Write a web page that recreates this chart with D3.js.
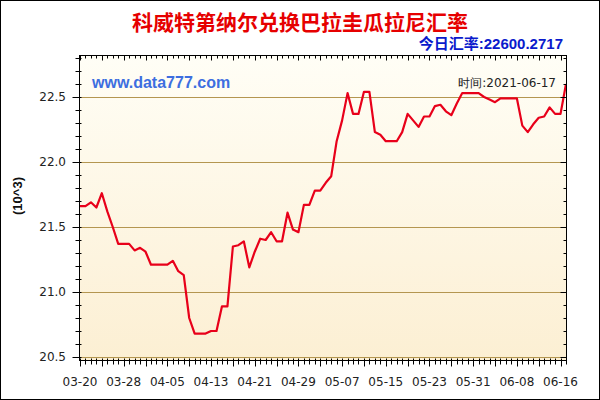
<!DOCTYPE html>
<html><head><meta charset="utf-8">
<script src="https://cdn.jsdelivr.net/npm/d3@7"></script>
<style>html,body{margin:0;padding:0;background:#fff;}svg{display:block;}</style>
</head><body>
<svg id="chart" width="600" height="400"></svg>
<script>
const title = "科威特第纳尔兑换巴拉圭瓜拉尼汇率";
const todayRate = "今日汇率:22600.2717";
const timeLabel = "时间:2021-06-17";
const site = "www.data777.com";
const unitLabel = "(10^3)";

const dates = [
 "03-20","03-21","03-22","03-23","03-24","03-25","03-26","03-27","03-28","03-29","03-30","03-31",
 "04-01","04-02","04-03","04-04","04-05","04-06","04-07","04-08","04-09","04-10",
 "04-11","04-12","04-13","04-14","04-15","04-16","04-17","04-18","04-19","04-20",
 "04-21","04-22","04-23","04-24","04-25","04-26","04-27","04-28","04-29","04-30",
 "05-01","05-02","05-03","05-04","05-05","05-06","05-07","05-08","05-09","05-10",
 "05-11","05-12","05-13","05-14","05-15","05-16","05-17","05-18","05-19","05-20",
 "05-21","05-22","05-23","05-24","05-25","05-26","05-27","05-28","05-29","05-30","05-31",
 "06-01","06-02","06-03","06-04","06-05","06-06","06-07","06-08","06-09","06-10",
 "06-11","06-12","06-13","06-14","06-15","06-16","06-17"
];
const values = [
 21.66,21.66,21.69,21.65,21.76,21.62,21.50,21.37,21.37,21.37,21.32,21.34,
 21.31,21.21,21.21,21.21,21.21,21.24,21.16,21.13,20.80,20.68,
 20.68,20.68,20.70,20.70,20.89,20.89,21.35,21.36,21.39,21.19,
 21.31,21.41,21.40,21.46,21.39,21.39,21.61,21.48,21.46,21.67,
 21.67,21.78,21.78,21.84,21.89,22.16,22.32,22.53,22.37,22.37,
 22.54,22.54,22.23,22.21,22.16,22.16,22.16,22.23,22.37,22.32,
 22.27,22.35,22.35,22.43,22.44,22.39,22.36,22.45,22.53,22.53,22.53,
 22.53,22.50,22.48,22.46,22.49,22.49,22.49,22.49,22.28,22.23,
 22.29,22.34,22.35,22.42,22.37,22.37,22.60
];
const xTickLabels = ["03-20","03-28","04-05","04-13","04-21","04-29","05-07","05-15","05-23","05-31","06-08","06-16"];
const yTicks = [20.5,21.0,21.5,22.0,22.5];
const yMinorTicks = [20.5,20.6,20.7,20.8,20.9,21.0,21.1,21.2,21.3,21.4,21.5,21.6,21.7,21.8,21.9,22.0,22.1,22.2,22.3,22.4,22.5,22.6,22.7,22.8];

const parse = d3.timeParse("%Y-%m-%d");
const toDate = s => parse("2021-" + s);
const data = dates.map((d,i) => ({date: toDate(d), value: values[i]}));

const svg = d3.select("#chart");
const L = 79.5, R = 566.5, T = 55.5, B = 360.5;

const x = d3.scaleTime().domain([toDate(dates[0]), toDate(dates[dates.length-1])]).range([80, 566]);
const y = d3.scaleLinear().domain([20.5, 22.5]).range([357, 97]);

// background
svg.append("rect").attr("x",0).attr("y",0).attr("width",600).attr("height",400).attr("fill","#fff");
const defs = svg.append("defs");
const grad = defs.append("linearGradient").attr("id","bg").attr("x1",0).attr("y1",0).attr("x2",0).attr("y2",1);
grad.append("stop").attr("offset","0%").attr("stop-color","#fffef6");
grad.append("stop").attr("offset","100%").attr("stop-color","#fcefd3");
svg.append("rect").attr("x",L).attr("y",T).attr("width",R-L).attr("height",B-T).attr("fill","url(#bg)");

// gridlines
svg.append("g").selectAll("line").data(yTicks).join("line")
  .attr("x1",L).attr("x2",R)
  .attr("y1",d=>Math.round(y(d))+0.5).attr("y2",d=>Math.round(y(d))+0.5)
  .attr("stroke","#b49650").attr("stroke-width",1);

// texts inside plot
svg.append("text").attr("x",92).attr("y",88).text(site)
  .attr("font-family","Liberation Sans, Arial, sans-serif").attr("font-weight","bold")
  .attr("font-size",16).attr("fill","#3d6ee0");
svg.append("text").attr("x",556).attr("y",87).attr("text-anchor","end").text(timeLabel)
  .attr("font-family","DejaVu Sans, sans-serif").attr("font-size",12).attr("fill","#222");

// line
svg.append("path").datum(data)
  .attr("d", d3.line().x(d=>x(d.date)).y(d=>y(d.value)))
  .attr("fill","none").attr("stroke","#e8001a").attr("stroke-width",2.2).attr("stroke-linejoin","round");

// frame
svg.append("rect").attr("x",L).attr("y",T).attr("width",R-L).attr("height",B-T)
  .attr("fill","none").attr("stroke","#000").attr("stroke-width",1);

// y ticks (left, crossing) and right (inward)
const tk = svg.append("g").attr("stroke","#000").attr("stroke-width",1);
yMinorTicks.forEach(v => {
  const major = yTicks.some(t => Math.abs(t - v) < 1e-6);
  const yy = Math.round(y(v)) + 0.5;
  tk.append("line").attr("x1", L - (major ? 7 : 4)).attr("x2", L + 2).attr("y1", yy).attr("y2", yy);
  tk.append("line").attr("x1", R - (major ? 6 : 3)).attr("x2", R).attr("y1", yy).attr("y2", yy);
});
// x ticks daily, major every 4 days
data.forEach((d,i) => {
  const xx = Math.round(x(d.date)) + 0.5;
  const major = i % 4 === 0;
  tk.append("line").attr("x1", xx).attr("x2", xx).attr("y1", B - 2).attr("y2", B + (major ? 6 : 4));
  tk.append("line").attr("x1", xx).attr("x2", xx).attr("y1", T).attr("y2", T + (major ? 5 : 3));
});

// y labels
svg.append("g").selectAll("text").data(yTicks).join("text")
  .attr("x", 66).attr("y", d => y(d)).attr("dy","0.35em").attr("text-anchor","end")
  .attr("font-family","DejaVu Sans, sans-serif").attr("font-size",12).attr("fill","#222")
  .text(d => d3.format(".1f")(d));

// x labels
svg.append("g").selectAll("text").data(xTickLabels).join("text")
  .attr("x", d => x(toDate(d))).attr("y", 386).attr("text-anchor","middle")
  .attr("font-family","DejaVu Sans, sans-serif").attr("font-size",12).attr("fill","#222")
  .text(d => d);

// titles
svg.append("text").attr("x",300).attr("y",30).attr("text-anchor","middle").text(title)
  .attr("font-family","Noto Sans CJK SC, sans-serif").attr("font-weight","bold")
  .attr("font-size",21).attr("fill","#e60000");
svg.append("text").attr("x",563).attr("y",49).attr("text-anchor","end").text(todayRate)
  .attr("font-family","Liberation Sans, Arial, Noto Sans CJK SC, sans-serif").attr("font-weight","bold")
  .attr("font-size",15).attr("fill","#0a1acc");
svg.append("text").attr("transform","translate(22,196) rotate(-90)").attr("text-anchor","middle").text(unitLabel)
  .attr("font-family","Liberation Sans, Arial, sans-serif").attr("font-weight","bold")
  .attr("font-size",13).attr("fill","#111");

// outer border
svg.append("rect").attr("x",0.5).attr("y",0.5).attr("width",599).attr("height",399)
  .attr("fill","none").attr("stroke","#000").attr("stroke-width",1);
</script>
</body></html>
